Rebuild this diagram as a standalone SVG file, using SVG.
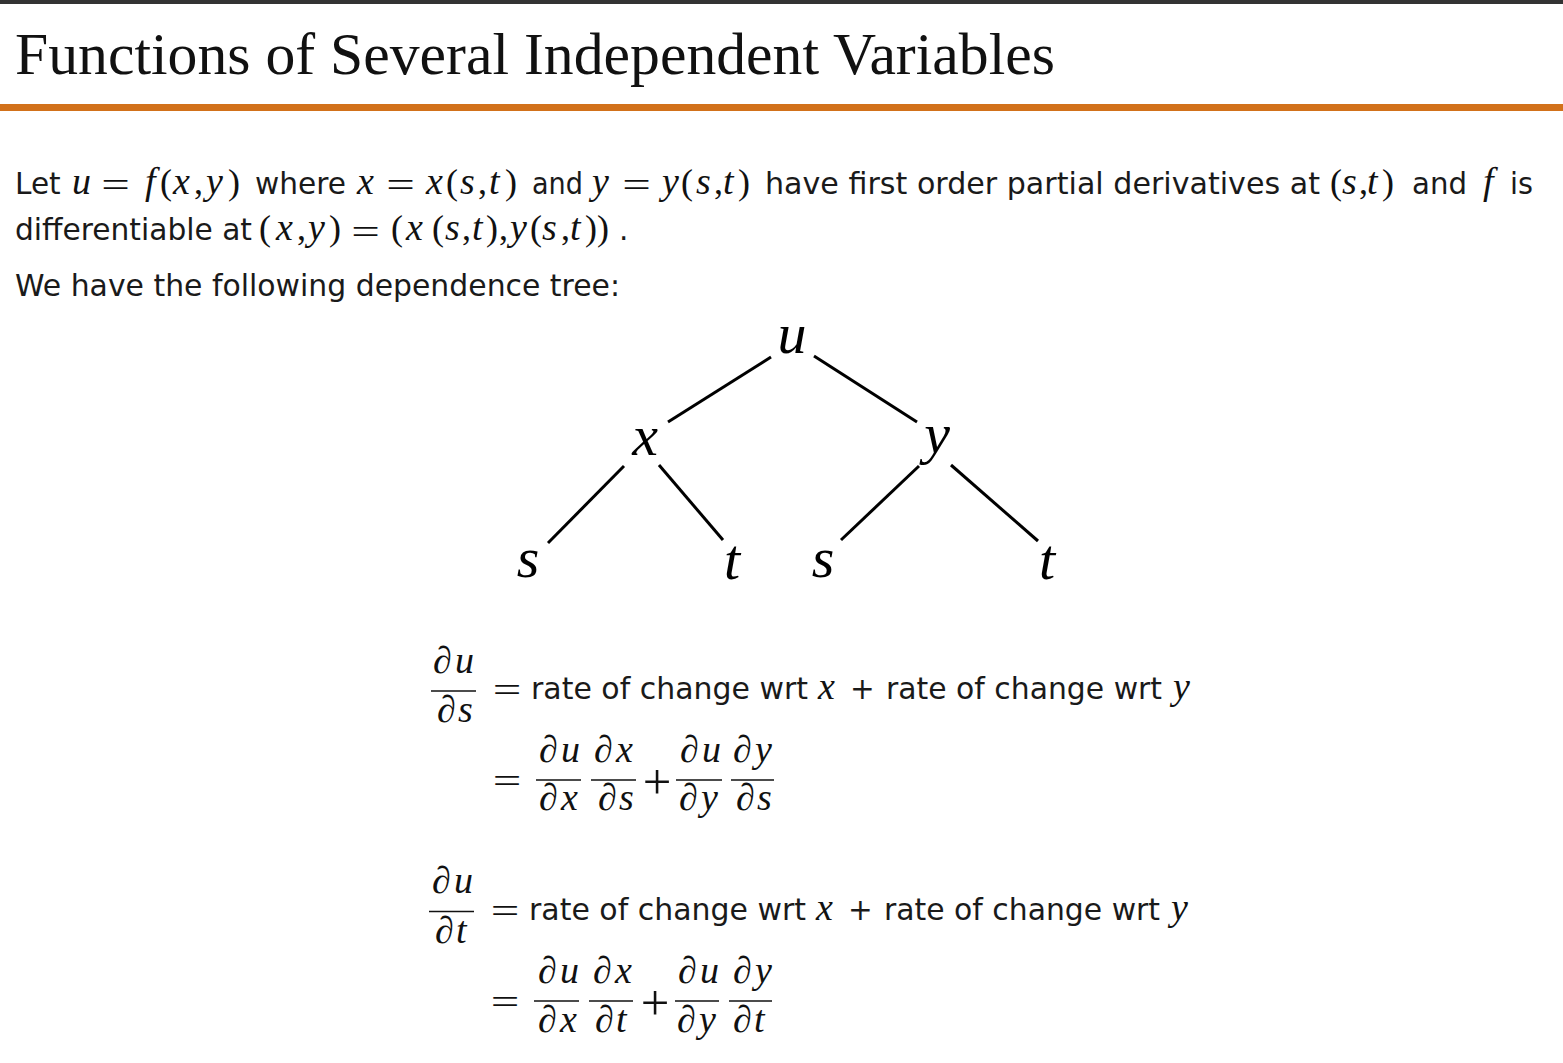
<svg xmlns="http://www.w3.org/2000/svg" width="1563" height="1063" viewBox="0 0 1563 1063">
<style>
.bg{fill:#ffffff}
.title{font-family:"Liberation Serif","Times New Roman",serif;font-size:59.5px;fill:#111}
.t{font-family:"DejaVu Sans",Verdana,sans-serif;font-size:29.5px;fill:#1a1a1a}
.m{font-family:"Liberation Serif","Times New Roman",serif;font-style:italic;font-size:38px;fill:#111}
.mu{font-family:"Liberation Serif","Times New Roman",serif;font-style:normal;font-size:36px;fill:#111}
.d{font-family:"Liberation Serif","Times New Roman",serif;font-style:italic;font-size:38px;fill:#111}
.node{font-family:"Liberation Serif","Times New Roman",serif;font-style:italic;font-size:58px;fill:#000;text-anchor:middle}
.edge{stroke:#000;stroke-width:3;stroke-linecap:butt;fill:none}
.bar{stroke:#111;stroke-width:1.6}
.op{font-family:"Liberation Serif","Times New Roman",serif;font-size:35px;fill:#111;text-anchor:middle}
</style>
<rect class="bg" x="0" y="0" width="1563" height="1063"/>
<rect x="0" y="0" width="1563" height="4" fill="#333333"/>
<text class="title" x="15" y="74" textLength="1040" lengthAdjust="spacingAndGlyphs">Functions of Several Independent Variables</text>
<rect x="0" y="104" width="1563" height="7" fill="#d2711a"/>

<!-- Line 1 -->
<g id="line1">
<text class="t" x="15" y="194">Let</text>
<text class="m" x="72" y="194">u</text>
<text class="op" transform="translate(115.5,196.5) scale(1.45,1)">=</text>
<text class="m" x="145" y="194">f</text>
<text class="mu" x="160" y="194">(</text>
<text class="m" x="173" y="194">x</text>
<text class="mu" x="194" y="194">,</text>
<text class="m" x="206" y="194">y</text>
<text class="mu" x="228" y="194">)</text>
<text class="t" x="255" y="194" textLength="91" lengthAdjust="spacingAndGlyphs">where</text>
<text class="m" x="357" y="194">x</text>
<text class="op" transform="translate(400.5,196.5) scale(1.45,1)">=</text>
<text class="m" x="426" y="194">x</text>
<text class="mu" x="446" y="194">(</text>
<text class="m" x="460" y="194">s</text>
<text class="mu" x="478" y="194">,</text>
<text class="m" x="489" y="194">t</text>
<text class="mu" x="505" y="194">)</text>
<text class="t" x="532" y="194" textLength="51" lengthAdjust="spacingAndGlyphs">and</text>
<text class="m" x="592" y="194">y</text>
<text class="op" transform="translate(636.5,196.5) scale(1.45,1)">=</text>
<text class="m" x="662" y="194">y</text>
<text class="mu" x="681" y="194">(</text>
<text class="m" x="696" y="194">s</text>
<text class="mu" x="714" y="194">,</text>
<text class="m" x="723" y="194">t</text>
<text class="mu" x="738" y="194">)</text>
<text class="t" x="765" y="194" textLength="555" lengthAdjust="spacingAndGlyphs">have first order partial derivatives at</text>
<text class="mu" x="1330" y="194">(</text>
<text class="m" x="1342" y="194">s</text>
<text class="mu" x="1359" y="194">,</text>
<text class="m" x="1367" y="194">t</text>
<text class="mu" x="1382" y="194">)</text>
<text class="t" x="1412" y="194" textLength="55" lengthAdjust="spacingAndGlyphs">and</text>
<text class="m" x="1483" y="194">f</text>
<text class="t" x="1510" y="194" textLength="23" lengthAdjust="spacingAndGlyphs">is</text>
</g>

<!-- Line 2 -->
<g id="line2">
<text class="t" x="15" y="240" textLength="237" lengthAdjust="spacingAndGlyphs">differentiable at</text>
<text class="mu" x="259" y="240">(</text>
<text class="m" x="276" y="240">x</text>
<text class="mu" x="297" y="240">,</text>
<text class="m" x="308" y="240">y</text>
<text class="mu" x="329" y="240">)</text>
<text class="op" transform="translate(365.5,243.5) scale(1.45,1)">=</text>
<text class="mu" x="391" y="240">(</text>
<text class="m" x="406" y="240">x</text>
<text class="mu" x="432" y="240">(</text>
<text class="m" x="445" y="240">s</text>
<text class="mu" x="462" y="240">,</text>
<text class="m" x="472" y="240">t</text>
<text class="mu" x="486" y="240">)</text>
<text class="mu" x="499" y="240">,</text>
<text class="m" x="510" y="240">y</text>
<text class="mu" x="530" y="240">(</text>
<text class="m" x="542" y="240">s</text>
<text class="mu" x="561" y="240">,</text>
<text class="m" x="570" y="240">t</text>
<text class="mu" x="585" y="240">)</text>
<text class="mu" x="597" y="240">)</text>
<text class="t" x="619" y="240">.</text>
</g>

<text class="t" x="15" y="296" textLength="605" lengthAdjust="spacingAndGlyphs">We have the following dependence tree:</text>

<!-- Tree connectors -->
<g id="connectors">
<line class="edge" x1="771" y1="357" x2="668" y2="422"/>
<line class="edge" x1="814" y1="356" x2="917" y2="422"/>
<line class="edge" x1="624" y1="466" x2="548" y2="543"/>
<line class="edge" x1="659" y1="465" x2="723" y2="540"/>
<line class="edge" x1="919" y1="466" x2="841" y2="540"/>
<line class="edge" x1="951" y1="465" x2="1038" y2="541"/>
</g>

<!-- Tree nodes -->
<g id="node-u"><text class="node" x="792" y="353">u</text></g>
<g id="node-x"><text class="node" x="645" y="455">x</text></g>
<g id="node-y"><text class="node" x="937" y="453">y</text></g>
<g id="node-s1"><text class="node" x="528" y="577">s</text></g>
<g id="node-t1"><text class="node" x="732" y="579">t</text></g>
<g id="node-s2"><text class="node" x="823" y="577">s</text></g>
<g id="node-t2"><text class="node" x="1047" y="579">t</text></g>

<!-- Equation block 1 -->
<g id="eq1">
<text class="d" x="433" y="673">∂</text><text class="d" x="455" y="673">u</text>
<line class="bar" x1="431" y1="691" x2="476" y2="691"/>
<text class="d" x="437" y="722">∂</text><text class="d" x="458" y="722">s</text>
<text class="op" transform="translate(507,702) scale(1.45,1)">=</text>
<text class="t" x="531" y="699" textLength="277" lengthAdjust="spacingAndGlyphs">rate of change wrt</text>
<text class="m" x="818" y="699">x</text>
<text class="t" x="850" y="699">+</text>
<text class="t" x="886" y="699" textLength="276" lengthAdjust="spacingAndGlyphs">rate of change wrt</text>
<text class="m" x="1173" y="699">y</text>

<text class="op" transform="translate(507,793) scale(1.45,1)">=</text>
<text class="d" x="539" y="762">∂</text><text class="d" x="561" y="762">u</text>
<line class="bar" x1="536" y1="780" x2="581" y2="780"/>
<text class="d" x="539" y="810">∂</text><text class="d" x="561" y="810">x</text>
<text class="d" x="594" y="762">∂</text><text class="d" x="616" y="762">x</text>
<line class="bar" x1="591" y1="780" x2="636" y2="780"/>
<text class="d" x="598" y="810">∂</text><text class="d" x="619" y="810">s</text>
<text class="op" transform="translate(657,799) scale(1.45,1.45)">+</text>
<text class="d" x="680" y="762">∂</text><text class="d" x="702" y="762">u</text>
<line class="bar" x1="676" y1="780" x2="722" y2="780"/>
<text class="d" x="679" y="810">∂</text><text class="d" x="701" y="810">y</text>
<text class="d" x="733" y="762">∂</text><text class="d" x="755" y="762">y</text>
<line class="bar" x1="731" y1="780" x2="774" y2="780"/>
<text class="d" x="736" y="810">∂</text><text class="d" x="757" y="810">s</text>
</g>

<!-- Equation block 2 -->
<g id="eq2">
<text class="d" x="432" y="893">∂</text><text class="d" x="454" y="893">u</text>
<line class="bar" x1="429" y1="911.5" x2="474" y2="911.5"/>
<text class="d" x="435" y="943">∂</text><text class="d" x="456" y="943">t</text>
<text class="op" transform="translate(505,923) scale(1.45,1)">=</text>
<text class="t" x="529" y="920" textLength="277" lengthAdjust="spacingAndGlyphs">rate of change wrt</text>
<text class="m" x="816" y="920">x</text>
<text class="t" x="848" y="920">+</text>
<text class="t" x="884" y="920" textLength="276" lengthAdjust="spacingAndGlyphs">rate of change wrt</text>
<text class="m" x="1171" y="920">y</text>

<text class="op" transform="translate(505,1014) scale(1.45,1)">=</text>
<text class="d" x="538" y="983">∂</text><text class="d" x="560" y="983">u</text>
<line class="bar" x1="534" y1="1001" x2="579" y2="1001"/>
<text class="d" x="538" y="1032">∂</text><text class="d" x="560" y="1032">x</text>
<text class="d" x="593" y="983">∂</text><text class="d" x="615" y="983">x</text>
<line class="bar" x1="589" y1="1001" x2="633" y2="1001"/>
<text class="d" x="595" y="1032">∂</text><text class="d" x="616" y="1032">t</text>
<text class="op" transform="translate(655,1020) scale(1.45,1.45)">+</text>
<text class="d" x="678" y="983">∂</text><text class="d" x="700" y="983">u</text>
<line class="bar" x1="675" y1="1001" x2="719" y2="1001"/>
<text class="d" x="677" y="1032">∂</text><text class="d" x="699" y="1032">y</text>
<text class="d" x="733" y="983">∂</text><text class="d" x="755" y="983">y</text>
<line class="bar" x1="729" y1="1001" x2="772" y2="1001"/>
<text class="d" x="733" y="1032">∂</text><text class="d" x="754" y="1032">t</text>
</g>
</svg>
